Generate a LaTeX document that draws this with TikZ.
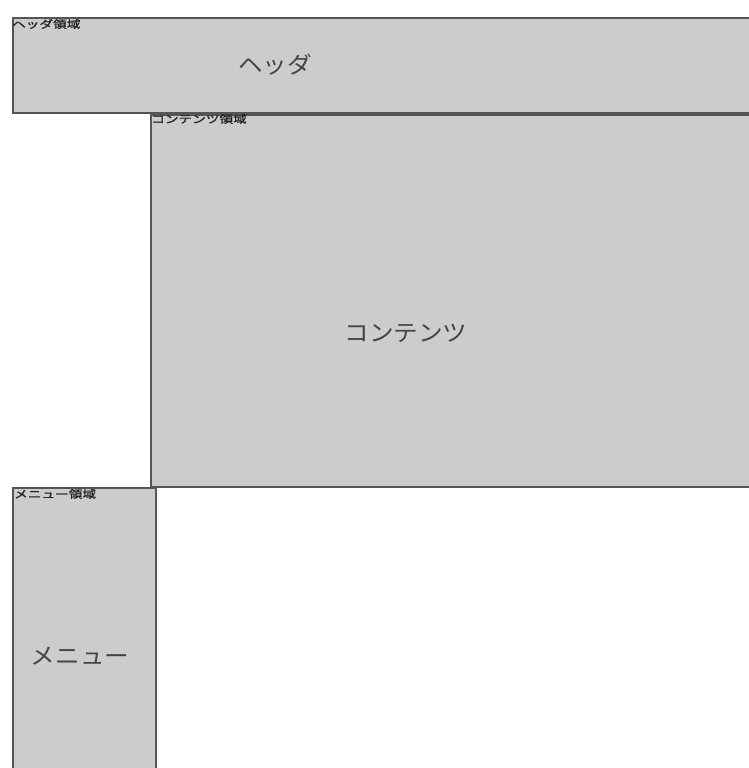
\documentclass[tikz,border=0pt]{standalone}
\usepackage{fontspec}
\usepackage{graphicx}
\newfontfamily\jp{Noto Sans CJK JP}
\newfontfamily\jpbold[FakeBold=1.2]{Noto Sans CJK JP}
\definecolor{boxfill}{HTML}{CCCCCC}
\definecolor{boxline}{HTML}{555555}
\definecolor{txt}{HTML}{444444}
\definecolor{smalltxt}{HTML}{222222}
\newcommand{\bigtext}[1]{\scalebox{1.07}[1]{#1}}
\newcommand{\smalltext}[1]{\scalebox{1.3}[1]{#1}}
\tikzset{
  area/.style={draw=boxline, line width=1.6pt, fill=boxfill, rectangle, inner sep=0pt, anchor=north west},
  biglabel/.style={font=\jp\fontsize{23}{26}\selectfont, text=txt},
  smalllabel/.style={font=\jpbold\fontsize{10.5}{12}\selectfont, text=smalltxt, anchor=north west, inner sep=0pt}
}
\begin{document}
\begin{tikzpicture}[x=1pt,y=1pt]
\useasboundingbox (0,0) rectangle (749,768);
\clip (0,0) rectangle (749,768);
\fill[white] (0,0) rectangle (749,768);
\node[area, minimum width=760pt, minimum height=95pt] (header) at (12,751) {};
\node[area, minimum width=620pt, minimum height=372pt] (content) at (150,654) {};
\node[area, minimum width=143pt, minimum height=300pt] (menu) at (12,281) {};
\node[biglabel] (headertext) at (275,703) {\bigtext{ヘッダ}};
\node[biglabel] (contenttext) at (406,435) {\bigtext{コンテンツ}};
\node[biglabel] (menutext) at (80,112) {\bigtext{メニュー}};
\node[smalllabel] (headerlabel) at (12,749) {\smalltext{ヘッダ領域}};
\node[smalllabel] (contentlabel) at (151,654) {\smalltext{コンテンツ領域}};
\node[smalllabel] (menulabel) at (14,279) {\smalltext{メニュー領域}};
\end{tikzpicture}
\end{document}
